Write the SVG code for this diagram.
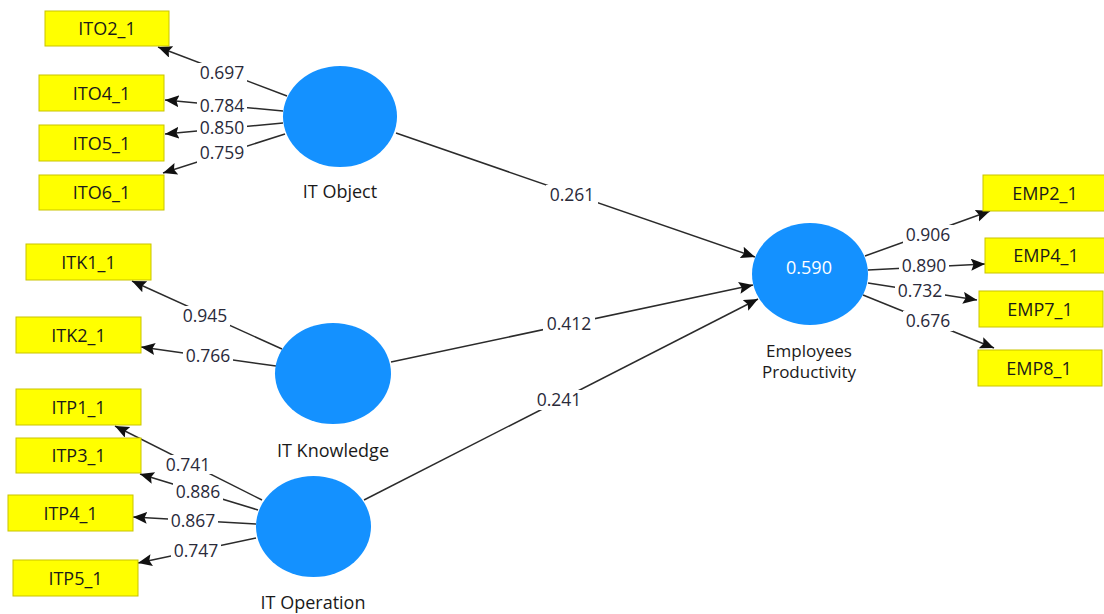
<svg xmlns="http://www.w3.org/2000/svg" width="1104" height="614" viewBox="0 0 1104 614">
<style>
.bg{fill:#ffffff}
.lv{fill:#1491ff}
.mv rect{fill:#ffff00;stroke:#c9c400;stroke-width:1}
.mv text,.lbl{font-family:"Open Sans","Liberation Sans",sans-serif;font-size:18px;fill:#1a1a1a;text-anchor:middle}
.lbl.two{font-size:17px}
.in{font-family:"Open Sans","Liberation Sans",sans-serif;font-size:18px;fill:#ffffff;text-anchor:middle}
.edge line{stroke:#2b2b2b;stroke-width:1.5;marker-end:url(#ah)}
.nb rect{fill:#ffffff}
.nb text{font-family:"Open Sans","Liberation Sans",sans-serif;font-size:17.5px;fill:#2a2a3a;text-anchor:middle}
</style>
<defs>
<marker id="ah" markerUnits="userSpaceOnUse" markerWidth="16" markerHeight="14" refX="14" refY="6" orient="auto">
<path d="M0,0 L14,6 L0,12 L2.5,6 z" fill="#111"/>
</marker>
</defs>
<rect class="bg" x="0" y="0" width="1104" height="614"/>

<g id="connectors" class="edge">
<line x1="287" y1="96" x2="158" y2="47"/>
<line x1="283" y1="111" x2="165" y2="100"/>
<line x1="283" y1="123" x2="165" y2="134"/>
<line x1="285" y1="134" x2="163" y2="173"/>
<line x1="282" y1="349" x2="132" y2="281"/>
<line x1="276" y1="366" x2="141" y2="347"/>
<line x1="262" y1="500" x2="115" y2="426"/>
<line x1="258" y1="510" x2="140" y2="474"/>
<line x1="256" y1="524" x2="133" y2="517"/>
<line x1="256" y1="538" x2="138" y2="563"/>
<line x1="865" y1="256" x2="990" y2="211"/>
<line x1="868" y1="270" x2="985" y2="264"/>
<line x1="868" y1="283" x2="977" y2="300"/>
<line x1="863" y1="295" x2="994" y2="348"/>
<line x1="396" y1="133" x2="755" y2="257"/>
<line x1="391" y1="362" x2="753" y2="285"/>
<line x1="364" y1="500" x2="758" y2="299"/>
</g>

<g id="edge-labels" class="nb">
<rect x="197" y="63" width="50" height="20"/><text x="222" y="79">0.697</text>
<rect x="197" y="97" width="50" height="18"/><text x="222" y="112">0.784</text>
<rect x="197" y="119" width="50" height="18"/><text x="222" y="134">0.850</text>
<rect x="197" y="143" width="50" height="20"/><text x="222" y="159">0.759</text>
<rect x="180" y="306" width="50" height="20"/><text x="205" y="322">0.945</text>
<rect x="183" y="346" width="50" height="20"/><text x="208" y="362">0.766</text>
<rect x="163" y="455" width="50" height="19"/><text x="188" y="471">0.741</text>
<rect x="173" y="483" width="50" height="18"/><text x="198" y="498">0.886</text>
<rect x="168" y="511" width="50" height="19"/><text x="193" y="527">0.867</text>
<rect x="171" y="541" width="50" height="20"/><text x="196" y="557">0.747</text>
<rect x="903" y="225" width="50" height="20"/><text x="928" y="241">0.906</text>
<rect x="899" y="257" width="50" height="18"/><text x="924" y="272">0.890</text>
<rect x="895" y="282" width="50" height="18"/><text x="920" y="297">0.732</text>
<rect x="903" y="311" width="50" height="20"/><text x="928" y="327">0.676</text>
<rect x="546" y="185" width="52" height="20"/><text x="572" y="201">0.261</text>
<rect x="543" y="314" width="52" height="20"/><text x="569" y="330">0.412</text>
<rect x="533" y="390" width="52" height="20"/><text x="559" y="406">0.241</text>
</g>

<g id="it-object"><ellipse class="lv" cx="340" cy="116.5" rx="57" ry="50.5"/><text class="lbl" x="340" y="198">IT Object</text></g>
<g id="it-knowledge"><ellipse class="lv" cx="333" cy="373.5" rx="58" ry="50.5"/><text class="lbl" x="333" y="457">IT Knowledge</text></g>
<g id="it-operation"><ellipse class="lv" cx="313.5" cy="526.5" rx="57.5" ry="50.5"/><text class="lbl" x="313" y="609">IT Operation</text></g>
<g id="employees-productivity"><ellipse class="lv" cx="810" cy="274" rx="58" ry="51"/><text class="in" x="809" y="274">0.590</text><text class="lbl two" x="809" y="357">Employees</text><text class="lbl two" x="809" y="378">Productivity</text></g>

<g id="ITO2_1" class="mv"><rect x="45" y="11" width="124" height="35"/><text x="107" y="35">ITO2_1</text></g>
<g id="ITO4_1" class="mv"><rect x="39" y="75" width="125" height="36"/><text x="101.5" y="99.5">ITO4_1</text></g>
<g id="ITO5_1" class="mv"><rect x="39" y="125" width="125" height="36"/><text x="101.5" y="149.5">ITO5_1</text></g>
<g id="ITO6_1" class="mv"><rect x="39" y="175" width="125" height="35"/><text x="101.5" y="199">ITO6_1</text></g>
<g id="ITK1_1" class="mv"><rect x="26" y="244" width="125" height="36"/><text x="88.5" y="268.5">ITK1_1</text></g>
<g id="ITK2_1" class="mv"><rect x="16" y="317" width="125" height="36"/><text x="78.5" y="341.5">ITK2_1</text></g>
<g id="ITP1_1" class="mv"><rect x="16" y="389" width="125" height="36"/><text x="78.5" y="413.5">ITP1_1</text></g>
<g id="ITP3_1" class="mv"><rect x="16" y="438" width="125" height="35"/><text x="78.5" y="462">ITP3_1</text></g>
<g id="ITP4_1" class="mv"><rect x="8" y="495" width="125" height="36"/><text x="70.5" y="519.5">ITP4_1</text></g>
<g id="ITP5_1" class="mv"><rect x="13" y="560" width="125" height="36"/><text x="75.5" y="584.5">ITP5_1</text></g>
<g id="EMP2_1" class="mv"><rect x="983" y="175" width="125" height="36"/><text x="1045" y="199.5">EMP2_1</text></g>
<g id="EMP4_1" class="mv"><rect x="985" y="238" width="125" height="35"/><text x="1046" y="262">EMP4_1</text></g>
<g id="EMP7_1" class="mv"><rect x="979" y="291" width="124" height="36"/><text x="1040" y="315.5">EMP7_1</text></g>
<g id="EMP8_1" class="mv"><rect x="978" y="350" width="124" height="36"/><text x="1039" y="374.5">EMP8_1</text></g>
</svg>
